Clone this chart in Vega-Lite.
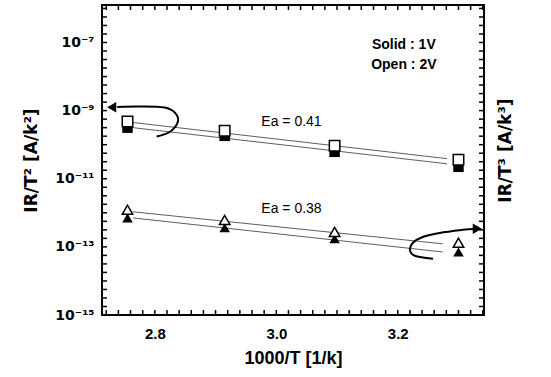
{
  "$schema": "https://vega.github.io/schema/vega-lite/v6.json",
  "width": 382,
  "height": 310,
  "autosize": {"type": "none"},
  "padding": {"left": 102, "top": 5, "right": 67, "bottom": 62},
  "background": "white",
  "config": {
    "view": {"stroke": "black", "strokeWidth": 2},
    "font": "Liberation Sans"
  },
  "datasets": {
    "points": [
      {"x": 2.755, "y": 4.79e-10, "quantity": "T2", "bias": "2V"},
      {"x": 2.915, "y": 2.57e-10, "quantity": "T2", "bias": "2V"},
      {"x": 3.096, "y": 9.33e-11, "quantity": "T2", "bias": "2V"},
      {"x": 3.300, "y": 3.63e-11, "quantity": "T2", "bias": "2V"},
      {"x": 2.755, "y": 3.16e-10, "quantity": "T2", "bias": "1V"},
      {"x": 2.915, "y": 1.82e-10, "quantity": "T2", "bias": "1V"},
      {"x": 3.096, "y": 6.17e-11, "quantity": "T2", "bias": "1V"},
      {"x": 3.300, "y": 2.24e-11, "quantity": "T2", "bias": "1V"},
      {"x": 2.755, "y": 1.23e-12, "quantity": "T3", "bias": "2V"},
      {"x": 2.915, "y": 6.17e-13, "quantity": "T3", "bias": "2V"},
      {"x": 3.096, "y": 2.75e-13, "quantity": "T3", "bias": "2V"},
      {"x": 3.300, "y": 1.32e-13, "quantity": "T3", "bias": "2V"},
      {"x": 2.755, "y": 7.08e-13, "quantity": "T3", "bias": "1V"},
      {"x": 2.915, "y": 3.63e-13, "quantity": "T3", "bias": "1V"},
      {"x": 3.096, "y": 1.74e-13, "quantity": "T3", "bias": "1V"},
      {"x": 3.300, "y": 7.08e-14, "quantity": "T3", "bias": "1V"}
    ],
    "fits": [
      {"fit": "T2 2V", "x": 2.764, "y": 4.47e-10},
      {"fit": "T2 2V", "x": 3.281, "y": 3.89e-11},
      {"fit": "T2 1V", "x": 2.764, "y": 3.16e-10},
      {"fit": "T2 1V", "x": 3.281, "y": 2.75e-11},
      {"fit": "T3 2V", "x": 2.764, "y": 1.07e-12},
      {"fit": "T3 2V", "x": 3.274, "y": 1.23e-13},
      {"fit": "T3 1V", "x": 2.764, "y": 7.08e-13},
      {"fit": "T3 1V", "x": 3.274, "y": 7.08e-14}
    ],
    "arrows": [
      {"arrow": "left", "i": 1, "x": 2.803, "y": 1.74e-10},
      {"arrow": "left", "i": 2, "x": 2.825, "y": 2.40e-10},
      {"arrow": "left", "i": 3, "x": 2.838, "y": 4.79e-10},
      {"arrow": "left", "i": 4, "x": 2.833, "y": 8.71e-10},
      {"arrow": "left", "i": 5, "x": 2.816, "y": 1.23e-9},
      {"arrow": "left", "i": 6, "x": 2.775, "y": 1.32e-9},
      {"arrow": "left", "i": 7, "x": 2.738, "y": 1.28e-9},
      {"arrow": "right", "i": 1, "x": 3.258, "y": 4.47e-14},
      {"arrow": "right", "i": 2, "x": 3.228, "y": 5.50e-14},
      {"arrow": "right", "i": 3, "x": 3.220, "y": 8.13e-14},
      {"arrow": "right", "i": 4, "x": 3.225, "y": 1.32e-13},
      {"arrow": "right", "i": 5, "x": 3.241, "y": 1.95e-13},
      {"arrow": "right", "i": 6, "x": 3.269, "y": 2.57e-13},
      {"arrow": "right", "i": 7, "x": 3.307, "y": 3.16e-13},
      {"arrow": "right", "i": 8, "x": 3.325, "y": 3.35e-13}
    ],
    "heads": [
      {"dir": "left", "x": 2.729, "y": 1.26e-9},
      {"dir": "right", "x": 3.331, "y": 3.39e-13}
    ],
    "notes": [
      {"kind": "legend", "x": 3.21, "y": 8.7e-8, "label": "Solid : 1V"},
      {"kind": "legend", "x": 3.21, "y": 2.24e-8, "label": "Open : 2V"},
      {"kind": "ea", "x": 3.025, "y": 4.79e-10, "label": "Ea = 0.41"},
      {"kind": "ea", "x": 3.025, "y": 1.32e-12, "label": "Ea = 0.38"}
    ],
    "xticks": [
      {"v": 2.72}, {"v": 2.74}, {"v": 2.76}, {"v": 2.78}, {"v": 2.8}, {"v": 2.82}, {"v": 2.84}, {"v": 2.86},
      {"v": 2.88}, {"v": 2.9}, {"v": 2.92}, {"v": 2.94}, {"v": 2.96}, {"v": 2.98}, {"v": 3.0}, {"v": 3.02},
      {"v": 3.04}, {"v": 3.06}, {"v": 3.08}, {"v": 3.1}, {"v": 3.12}, {"v": 3.14}, {"v": 3.16}, {"v": 3.18},
      {"v": 3.2}, {"v": 3.22}, {"v": 3.24}, {"v": 3.26}, {"v": 3.28}, {"v": 3.3}, {"v": 3.32}, {"v": 3.34}
    ],
    "yticks": [
      {"v": 1.778e-15}, {"v": 3.162e-15}, {"v": 5.623e-15}, {"v": 1e-14}, {"v": 1.778e-14}, {"v": 3.162e-14}, {"v": 5.623e-14},
      {"v": 1e-13}, {"v": 1.778e-13}, {"v": 3.162e-13}, {"v": 5.623e-13}, {"v": 1e-12}, {"v": 1.778e-12}, {"v": 3.162e-12}, {"v": 5.623e-12},
      {"v": 1e-11}, {"v": 1.778e-11}, {"v": 3.162e-11}, {"v": 5.623e-11}, {"v": 1e-10}, {"v": 1.778e-10}, {"v": 3.162e-10}, {"v": 5.623e-10},
      {"v": 1e-9}, {"v": 1.778e-9}, {"v": 3.162e-9}, {"v": 5.623e-9}, {"v": 1e-8}, {"v": 1.778e-8}, {"v": 3.162e-8}, {"v": 5.623e-8},
      {"v": 1e-7}, {"v": 1.778e-7}, {"v": 3.162e-7}, {"v": 5.623e-7}, {"v": 1e-6}
    ]
  },
  "layer": [
    {
      "data": {"name": "fits"},
      "mark": {"type": "line", "color": "#333333", "strokeWidth": 0.8},
      "encoding": {
        "x": {
          "field": "x", "type": "quantitative",
          "scale": {"domain": [2.713, 3.342], "nice": false, "zero": false},
          "axis": {
            "orient": "bottom", "domain": false, "grid": false, "ticks": false,
            "title": "1000/T [1/k]", "titleColor": "black",
            "titleFontSize": 18, "titleFontWeight": "bold", "titlePadding": 8,
            "labelColor": "black", "labelFontSize": 15, "labelFontWeight": "bold", "labelFont": "Liberation Sans", "titleFont": "Liberation Sans",
            "values": [2.8, 3.0, 3.2],
            "format": ".1f",
            "labelPadding": 11
          }
        },
        "y": {
          "field": "y", "type": "quantitative",
          "scale": {"type": "log", "domain": [1e-15, 1.26e-6], "nice": false},
          "axis": {
            "orient": "left", "domain": false, "grid": false, "ticks": false,
            "title": "IR/T² [A/k²]", "titleColor": "black",
            "titleFont": "DejaVu Sans",
            "titleFontSize": 17, "titleFontWeight": "bold", "titlePadding": 14,
            "labelColor": "black", "labelFont": "DejaVu Sans",
            "labelFontSize": 14, "labelFontWeight": "bold",
            "values": [1e-15, 1e-13, 1e-11, 1e-9, 1e-7],
            "labelExpr": "round(log(datum.value)/LN10) == -7 ? '10⁻⁷' : round(log(datum.value)/LN10) == -9 ? '10⁻⁹' : round(log(datum.value)/LN10) == -11 ? '10⁻¹¹' : round(log(datum.value)/LN10) == -13 ? '10⁻¹³' : '10⁻¹⁵'",
            "labelPadding": 8
          }
        },
        "detail": {"field": "fit"}
      }
    },
    {
      "data": {"name": "arrows"},
      "mark": {"type": "line", "color": "black", "strokeWidth": 2, "interpolate": "cardinal"},
      "encoding": {
        "x": {"field": "x", "type": "quantitative", "axis": null},
        "y": {
          "field": "y", "type": "quantitative",
          "axis": {
            "orient": "right", "labels": false, "domain": false, "grid": false, "ticks": false,
            "title": "IR/T³ [A/k³]", "titleColor": "black",
            "titleFont": "DejaVu Sans",
            "titleFontSize": 17, "titleFontWeight": "bold", "titleAngle": 270, "titlePadding": 30, "titleY": 145,
            "values": [1e-15, 1e-13, 1e-11, 1e-9, 1e-7]
          }
        },
        "detail": {"field": "arrow"},
        "order": {"field": "i", "type": "quantitative"}
      }
    },
    {
      "data": {"name": "xticks"},
      "mark": {"type": "rule", "color": "black", "strokeWidth": 1.5},
      "encoding": {
        "x": {"field": "v", "type": "quantitative", "axis": null},
        "y": {"datum": 1e-15, "axis": null},
        "y2": {"datum": 1.4e-15}
      }
    },
    {
      "data": {"name": "xticks"},
      "mark": {"type": "rule", "color": "black", "strokeWidth": 1.5},
      "encoding": {
        "x": {"field": "v", "type": "quantitative", "axis": null},
        "y": {"datum": 1.26e-6, "axis": null},
        "y2": {"datum": 8.97e-7}
      }
    },
    {
      "data": {"name": "yticks"},
      "mark": {"type": "rule", "color": "black", "strokeWidth": 1.5},
      "encoding": {
        "y": {"field": "v", "type": "quantitative", "axis": null},
        "x": {"datum": 2.713, "axis": null},
        "x2": {"datum": 2.7212}
      }
    },
    {
      "data": {"name": "yticks"},
      "mark": {"type": "rule", "color": "black", "strokeWidth": 1.5},
      "encoding": {
        "y": {"field": "v", "type": "quantitative", "axis": null},
        "x": {"datum": 3.342, "axis": null},
        "x2": {"datum": 3.3338}
      }
    },
    {
      "data": {"name": "heads"},
      "transform": [{"filter": "datum.dir == 'left'"}],
      "mark": {"type": "point", "shape": "triangle-left", "filled": true, "color": "black", "size": 110, "opacity": 1},
      "encoding": {
        "x": {"field": "x", "type": "quantitative", "axis": null},
        "y": {"field": "y", "type": "quantitative", "axis": null}
      }
    },
    {
      "data": {"name": "heads"},
      "transform": [{"filter": "datum.dir == 'right'"}],
      "mark": {"type": "point", "shape": "triangle-right", "filled": true, "color": "black", "size": 110, "opacity": 1},
      "encoding": {
        "x": {"field": "x", "type": "quantitative", "axis": null},
        "y": {"field": "y", "type": "quantitative", "axis": null}
      }
    },
    {
      "data": {"name": "points"},
      "transform": [{"filter": "datum.bias == '1V'"}],
      "mark": {"type": "point", "filled": true, "color": "black", "opacity": 1, "size": 110},
      "encoding": {
        "x": {"field": "x", "type": "quantitative", "axis": null},
        "y": {"field": "y", "type": "quantitative", "axis": null},
        "shape": {"field": "quantity", "type": "nominal", "scale": {"domain": ["T2", "T3"], "range": ["square", "triangle-up"]}, "legend": null}
      }
    },
    {
      "data": {"name": "points"},
      "transform": [{"filter": "datum.bias == '2V'"}],
      "mark": {"type": "point", "filled": true, "fill": "white", "stroke": "black", "strokeWidth": 1.5, "opacity": 1, "size": 110},
      "encoding": {
        "x": {"field": "x", "type": "quantitative", "axis": null},
        "y": {"field": "y", "type": "quantitative", "axis": null},
        "shape": {"field": "quantity", "type": "nominal", "scale": {"domain": ["T2", "T3"], "range": ["square", "triangle-up"]}, "legend": null}
      }
    },
    {
      "data": {"name": "notes"},
      "transform": [{"filter": "datum.kind == 'legend'"}],
      "mark": {"type": "text", "fontSize": 14, "fontWeight": "bold", "color": "black", "align": "center", "baseline": "middle"},
      "encoding": {
        "x": {"field": "x", "type": "quantitative", "axis": null},
        "y": {"field": "y", "type": "quantitative", "axis": null},
        "text": {"field": "label"}
      }
    },
    {
      "data": {"name": "notes"},
      "transform": [{"filter": "datum.kind == 'ea'"}],
      "mark": {"type": "text", "fontSize": 14, "color": "black", "align": "center", "baseline": "middle"},
      "encoding": {
        "x": {"field": "x", "type": "quantitative", "axis": null},
        "y": {"field": "y", "type": "quantitative", "axis": null},
        "text": {"field": "label"}
      }
    }
  ],
  "resolve": {"axis": {"x": "independent", "y": "independent"}}
}
